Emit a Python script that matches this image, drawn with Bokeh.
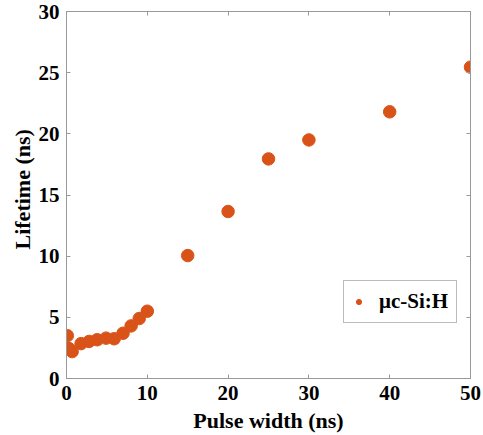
from bokeh.plotting import figure
from bokeh.models import (Range1d, LinearAxis, FixedTicker, Title, Legend, LegendItem,
                          CustomJSTickFormatter)
from bokeh.embed import file_html
from bokeh.resources import INLINE

pulse_width = [0.1, 0.3, 0.7, 1.8, 2.8, 3.8, 4.9, 5.9, 7, 8, 9, 10, 15, 20, 25, 30, 40, 50]
lifetime = [3.5, 2.45, 2.2, 2.85, 3.03, 3.17, 3.3, 3.25, 3.7, 4.3, 4.9, 5.5,
            10.05, 13.65, 17.95, 19.5, 21.8, 25.45]
series_name = "μc-Si:H"
x_ticks = [0, 10, 20, 30, 40, 50]
y_ticks = [0, 5, 10, 15, 20, 25, 30]

FONT = "Liberation Serif"
GRAY = "#999999"
ORANGE = "#D95319"

p = figure(width=483, height=435, output_backend="svg", toolbar_location=None,
           x_range=Range1d(0, 50), y_range=Range1d(0, 30),
           min_border_left=66, min_border_right=13, min_border_top=11, min_border_bottom=57)
p.background_fill_color = "white"
p.border_fill_color = "white"
p.grid.visible = False
p.outline_line_color = GRAY
p.outline_line_width = 1

r = p.scatter(pulse_width, lifetime, size=12.5, color=ORANGE, line_color=ORANGE)

def style_axis(ax, ticks, show_labels=True):
    ax.ticker = FixedTicker(ticks=ticks)
    ax.axis_line_color = GRAY
    ax.major_tick_line_color = GRAY
    ax.minor_tick_line_color = None
    ax.major_tick_in = 4
    ax.major_tick_out = 0
    ax.major_label_text_font = FONT
    ax.major_label_text_font_style = "bold"
    ax.major_label_text_color = "black"
    ax.major_label_text_font_size = "21px"
    if show_labels:
        ax.major_label_standoff = 7
    else:
        ax.formatter = CustomJSTickFormatter(code="return ''")
        ax.major_label_standoff = 0

style_axis(p.xaxis[0], x_ticks)
style_axis(p.yaxis[0], y_ticks)
p.xaxis[0].axis_label = "Pulse width (ns)"
p.xaxis[0].axis_label_text_font = FONT
p.xaxis[0].axis_label_text_font_style = "bold"
p.xaxis[0].axis_label_text_font_size = "22px"
p.xaxis[0].axis_label_text_color = "black"
p.xaxis[0].axis_label_standoff = 5

top = LinearAxis()
style_axis(top, x_ticks, show_labels=False)
p.add_layout(top, "above")
right = LinearAxis()
style_axis(right, y_ticks, show_labels=False)
p.add_layout(right, "right")

ytitle = Title(text="Lifetime (ns)", align="left", offset=129,
               text_font=FONT, text_font_style="bold", text_font_size="22px",
               text_color="black", standoff=2)
p.add_layout(ytitle, "left")

legend = Legend(items=[LegendItem(label=series_name, renderers=[r])],
                location=(277, 55), orientation="vertical")
legend.label_text_font = FONT
legend.label_text_font_style = "bold"
legend.label_text_font_size = "21px"
legend.label_text_color = "black"
legend.border_line_color = "#777777"
legend.border_line_width = 1
legend.background_fill_color = "white"
legend.background_fill_alpha = 1
legend.padding = 8
legend.margin = 0
legend.spacing = 0
legend.glyph_width = 13
legend.glyph_height = 13
legend.label_height = 14
legend.label_standoff = 14
p.add_layout(legend)

open("out.html", "w").write(file_html(p, INLINE))
